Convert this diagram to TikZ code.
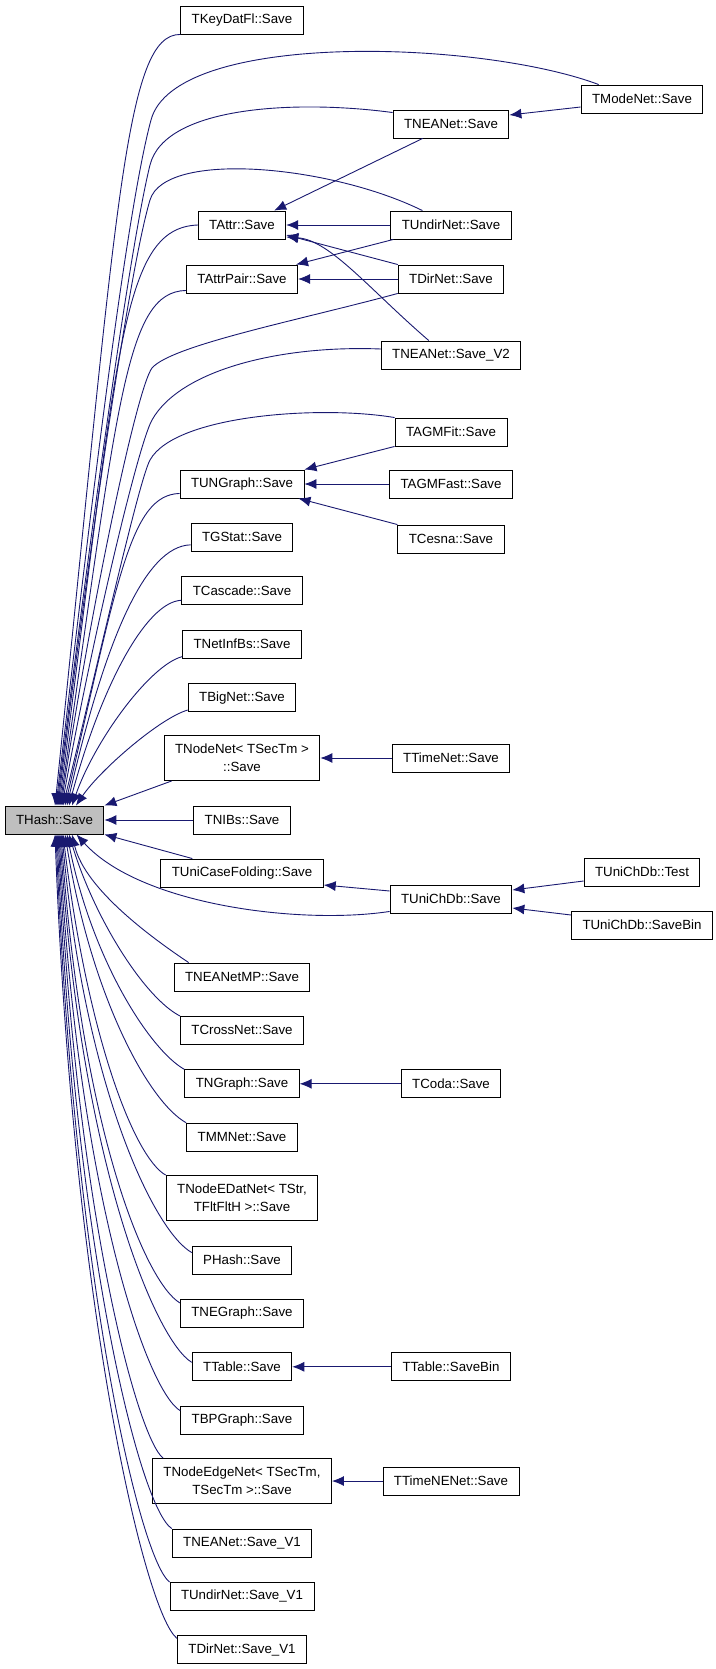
\documentclass[tikz,border=0pt]{standalone}
\usepackage{fontspec}
\setmainfont{Liberation Sans}
\usetikzlibrary{arrows.meta}
\definecolor{edgeblue}{RGB}{25,25,112}
\definecolor{hashgray}{RGB}{191,191,191}

\begin{document}
\begin{tikzpicture}[x=1pt, y=1pt, node distance=53.4pt,
    func/.style={rectangle, draw=black, fill=white, line width=0.9pt, inner xsep=11pt, inner ysep=5pt, minimum height=28pt, align=center, font=\fontsize{13.3}{18}\selectfont},
    hashbox/.style={func, fill=hashgray},
    line/.style={draw=edgeblue, line width=0.9pt, -{Latex[length=12pt, width=10pt]}}]

    \useasboundingbox (0,0) rectangle (715,-1669);

    % column 2
    \node [func] (kdf) at (242,-20) {TKeyDatFl::Save};
    \node [func] (attr) at (242,-225) {TAttr::Save};
    \node [func] (attrpair) at (242,-279) {TAttrPair::Save};
    \node [func] (ungraph) at (242,-484) {TUNGraph::Save};
    \node [func, below of=ungraph] (gstat) {TGStat::Save};
    \node [func, below of=gstat] (cascade) {TCascade::Save};
    \node [func, below of=cascade] (netinfbs) {TNetInfBs::Save};
    \node [func, below of=netinfbs] (bignet) {TBigNet::Save};
    \node [func, minimum height=45pt] (nodenet) at (242,-758) {TNodeNet< TSecTm >\\::Save};
    \node [hashbox] (hash) at (54.5,-820) {THash::Save};
    \node [func] (nibs) at (242,-820) {TNIBs::Save};
    \node [func] (unicase) at (242,-873) {TUniCaseFolding::Save};
    \node [func] (neamp) at (242,-977) {TNEANetMP::Save};
    \node [func, below of=neamp] (crossnet) {TCrossNet::Save};
    \node [func, below of=crossnet] (ngraph) {TNGraph::Save};
    \node [func, below of=ngraph] (mmnet) {TMMNet::Save};
    \node [func, minimum height=45pt] (nodeedat) at (242,-1198) {TNodeEDatNet< TStr,\\TFltFltH >::Save};
    \node [func] (phash) at (242,-1260) {PHash::Save};
    \node [func, below of=phash] (negraph) {TNEGraph::Save};
    \node [func, below of=negraph] (table) {TTable::Save};
    \node [func, below of=table] (bpgraph) {TBPGraph::Save};
    \node [func, minimum height=45pt] (nodeedge) at (242,-1481) {TNodeEdgeNet< TSecTm,\\TSecTm >::Save};
    \node [func] (neav1) at (242,-1543) {TNEANet::Save\_V1};
    \node [func, below of=neav1] (undirv1) {TUndirNet::Save\_V1};
    \node [func, below of=undirv1] (dirv1) {TDirNet::Save\_V1};

    % column 3
    \node [func] (neanet) at (451,-124) {TNEANet::Save};
    \node [func, right of=attr, node distance=209pt] (undirnet) {TUndirNet::Save};
    \node [func, right of=attrpair, node distance=209pt] (dirnet) {TDirNet::Save};
    \node [func] (neav2) at (451,-355) {TNEANet::Save\_V2};
    \node [func] (agmfit) at (451,-432) {TAGMFit::Save};
    \node [func, right of=ungraph, node distance=209pt] (agmfast) {TAGMFast::Save};
    \node [func] (cesna) at (451,-539) {TCesna::Save};
    \node [func, right of=nodenet, node distance=209pt] (timenet) {TTimeNet::Save};
    \node [func] (unichdb) at (451,-899) {TUniChDb::Save};
    \node [func, right of=ngraph, node distance=209pt] (coda) {TCoda::Save};
    \node [func, right of=table, node distance=209pt] (tablebin) {TTable::SaveBin};
    \node [func, right of=nodeedge, node distance=209pt] (timenenet) {TTimeNENet::Save};

    % column 4
    \node [func] (modenet) at (642,-99) {TModeNet::Save};
    \node [func] (unitest) at (642,-872) {TUniChDb::Test};
    \node [func] (unibin) at (642,-925) {TUniChDb::SaveBin};

    % callers of THash::Save, above it
    \path [line] (kdf.south west) .. controls (125,-34) and (117,-204) .. ([xshift=0.5pt]hash.north);
    \path [line] ([xshift=18pt]modenet.north west) .. controls (480,-40) and (175,-30) .. (151,-120) .. controls (124,-220) and (85,-560) .. ([xshift=1.5pt]hash.north);
    \path [line] ([yshift=-3pt]neanet.north west) .. controls (300,-100) and (165,-105) .. (150,-165) .. controls (130,-245) and (87,-556) .. ([xshift=2.5pt]hash.north);
    \path [line] ([xshift=32pt]undirnet.north west) .. controls (330,-165) and (165,-150) .. (150,-200) .. controls (129,-270) and (88,-556) .. ([xshift=3.5pt]hash.north);
    \path [line] (attr.west) .. controls (120,-228) and (118,-353) .. ([xshift=4.5pt]hash.north);
    \path [line] ([yshift=3pt]attrpair.south west) .. controls (125,-292) and (118,-403) .. ([xshift=5.5pt]hash.north);
    \path [line] (dirnet.south west) .. controls (300,-320) and (172,-345) .. (152,-368) .. controls (137,-388) and (92,-600) .. ([xshift=6.5pt]hash.north);
    \path [line] ([yshift=6pt]neav2.west) .. controls (280,-345) and (180,-370) .. (152,-420) .. controls (138,-445) and (92,-640) .. ([xshift=7.5pt]hash.north);
    \path [line] (agmfit.north west) .. controls (320,-405) and (175,-415) .. (150,-460) .. controls (138,-482) and (92,-690) .. ([xshift=8.5pt]hash.north);
    \path [line] ([yshift=5pt]ungraph.south west) .. controls (130,-495) and (118,-580) .. ([xshift=10.5pt]hash.north);
    \path [line] ([yshift=7pt]gstat.south west) .. controls (145,-546) and (105,-640) .. ([xshift=12.5pt]hash.north);
    \path [line] ([yshift=5pt]cascade.south west) .. controls (145,-602) and (100,-690) .. ([xshift=14.5pt]hash.north);
    \path [line] ([yshift=2pt]netinfbs.south west) .. controls (150,-665) and (95,-740) .. ([xshift=17.5pt]hash.north);
    \path [line] ([yshift=2pt]bignet.south west) .. controls (160,-718) and (100,-770) .. ([xshift=21.5pt]hash.north);
    \path [line] ([xshift=8pt]nodenet.south west) -- (hash.north east);
    \path [line] (nibs.west) -- (hash.east);
    \path [line] ([xshift=32pt]unicase.north west) -- (hash.south east);

    % callers of THash::Save, below it
    \path [line] ([yshift=2pt]unichdb.south west) .. controls (300,-925) and (140,-905) .. ([xshift=22pt]hash.south);
    \path [line] ([xshift=15pt]neamp.north west) .. controls (155,-940) and (85,-890) .. ([xshift=17.5pt]hash.south);
    \path [line] (crossnet.north west) .. controls (145,-998) and (95,-920) .. ([xshift=14.5pt]hash.south);
    \path [line] (ngraph.north west) .. controls (150,-1050) and (92,-960) .. ([xshift=12.5pt]hash.south);
    \path [line] (mmnet.north west) .. controls (150,-1103) and (92,-1000) .. ([xshift=10.5pt]hash.south);
    \path [line] (nodeedat.north west) .. controls (135,-1158) and (88,-1040) .. ([xshift=8.5pt]hash.south);
    \path [line] ([yshift=-7pt]phash.north west) .. controls (155,-1232) and (85,-1090) .. ([xshift=7.5pt]hash.south);
    \path [line] ([yshift=-4pt]negraph.north west) .. controls (145,-1282) and (82,-1130) .. ([xshift=6.5pt]hash.south);
    \path [line] ([yshift=-10pt]table.north west) .. controls (155,-1340) and (80,-1160) .. ([xshift=5.5pt]hash.south);
    \path [line] ([yshift=-5pt]bpgraph.north west) .. controls (146,-1390) and (78,-1190) .. ([xshift=4.5pt]hash.south);
    \path [line] ([xshift=11pt]nodeedge.north west) .. controls (138,-1438) and (77,-1220) .. ([xshift=3.5pt]hash.south);
    \path [line] (neav1.north west) .. controls (140,-1508) and (75,-1250) .. ([xshift=2.5pt]hash.south);
    \path [line] (undirv1.north west) .. controls (140,-1560) and (74,-1280) .. ([xshift=1.5pt]hash.south);
    \path [line] ([yshift=-3pt]dirv1.north west) .. controls (145,-1613) and (73,-1310) .. ([xshift=0.5pt]hash.south);

    % the other calls
    \path [line] ([yshift=-8pt]modenet.west) -- ([yshift=9pt]neanet.east);
    \path [line] ([xshift=30pt]neanet.south west) -- ([xshift=-12pt]attr.north east);
    \path [line] (undirnet.west) -- (attr.east);
    \path [line] (dirnet.north west) -- ([yshift=-10pt]attr.east);
    \path [line] ([xshift=48pt]neav2.north west) .. controls (370,-290) and (330,-240) .. ([yshift=-12pt]attr.east);
    \path [line] ([xshift=3pt]undirnet.south west) -- ([xshift=-2pt]attrpair.north east);
    \path [line] (dirnet.west) -- (attrpair.east);
    \path [line] (agmfit.south west) -- (ungraph.north east);
    \path [line] (agmfast.west) -- (ungraph.east);
    \path [line] (cesna.north west) -- ([xshift=-6pt]ungraph.south east);
    \path [line] (timenet.west) -- (nodenet.east);
    \path [line] ([yshift=8pt]unichdb.west) -- ([yshift=-12pt]unicase.east);
    \path [line] ([yshift=-9pt]unitest.west) -- ([yshift=9pt]unichdb.east);
    \path [line] ([yshift=10pt]unibin.west) -- ([yshift=-9pt]unichdb.east);
    \path [line] (coda.west) -- (ngraph.east);
    \path [line] (tablebin.west) -- (table.east);
    \path [line] (timenenet.west) -- (nodeedge.east);
\end{tikzpicture}
\end{document}
